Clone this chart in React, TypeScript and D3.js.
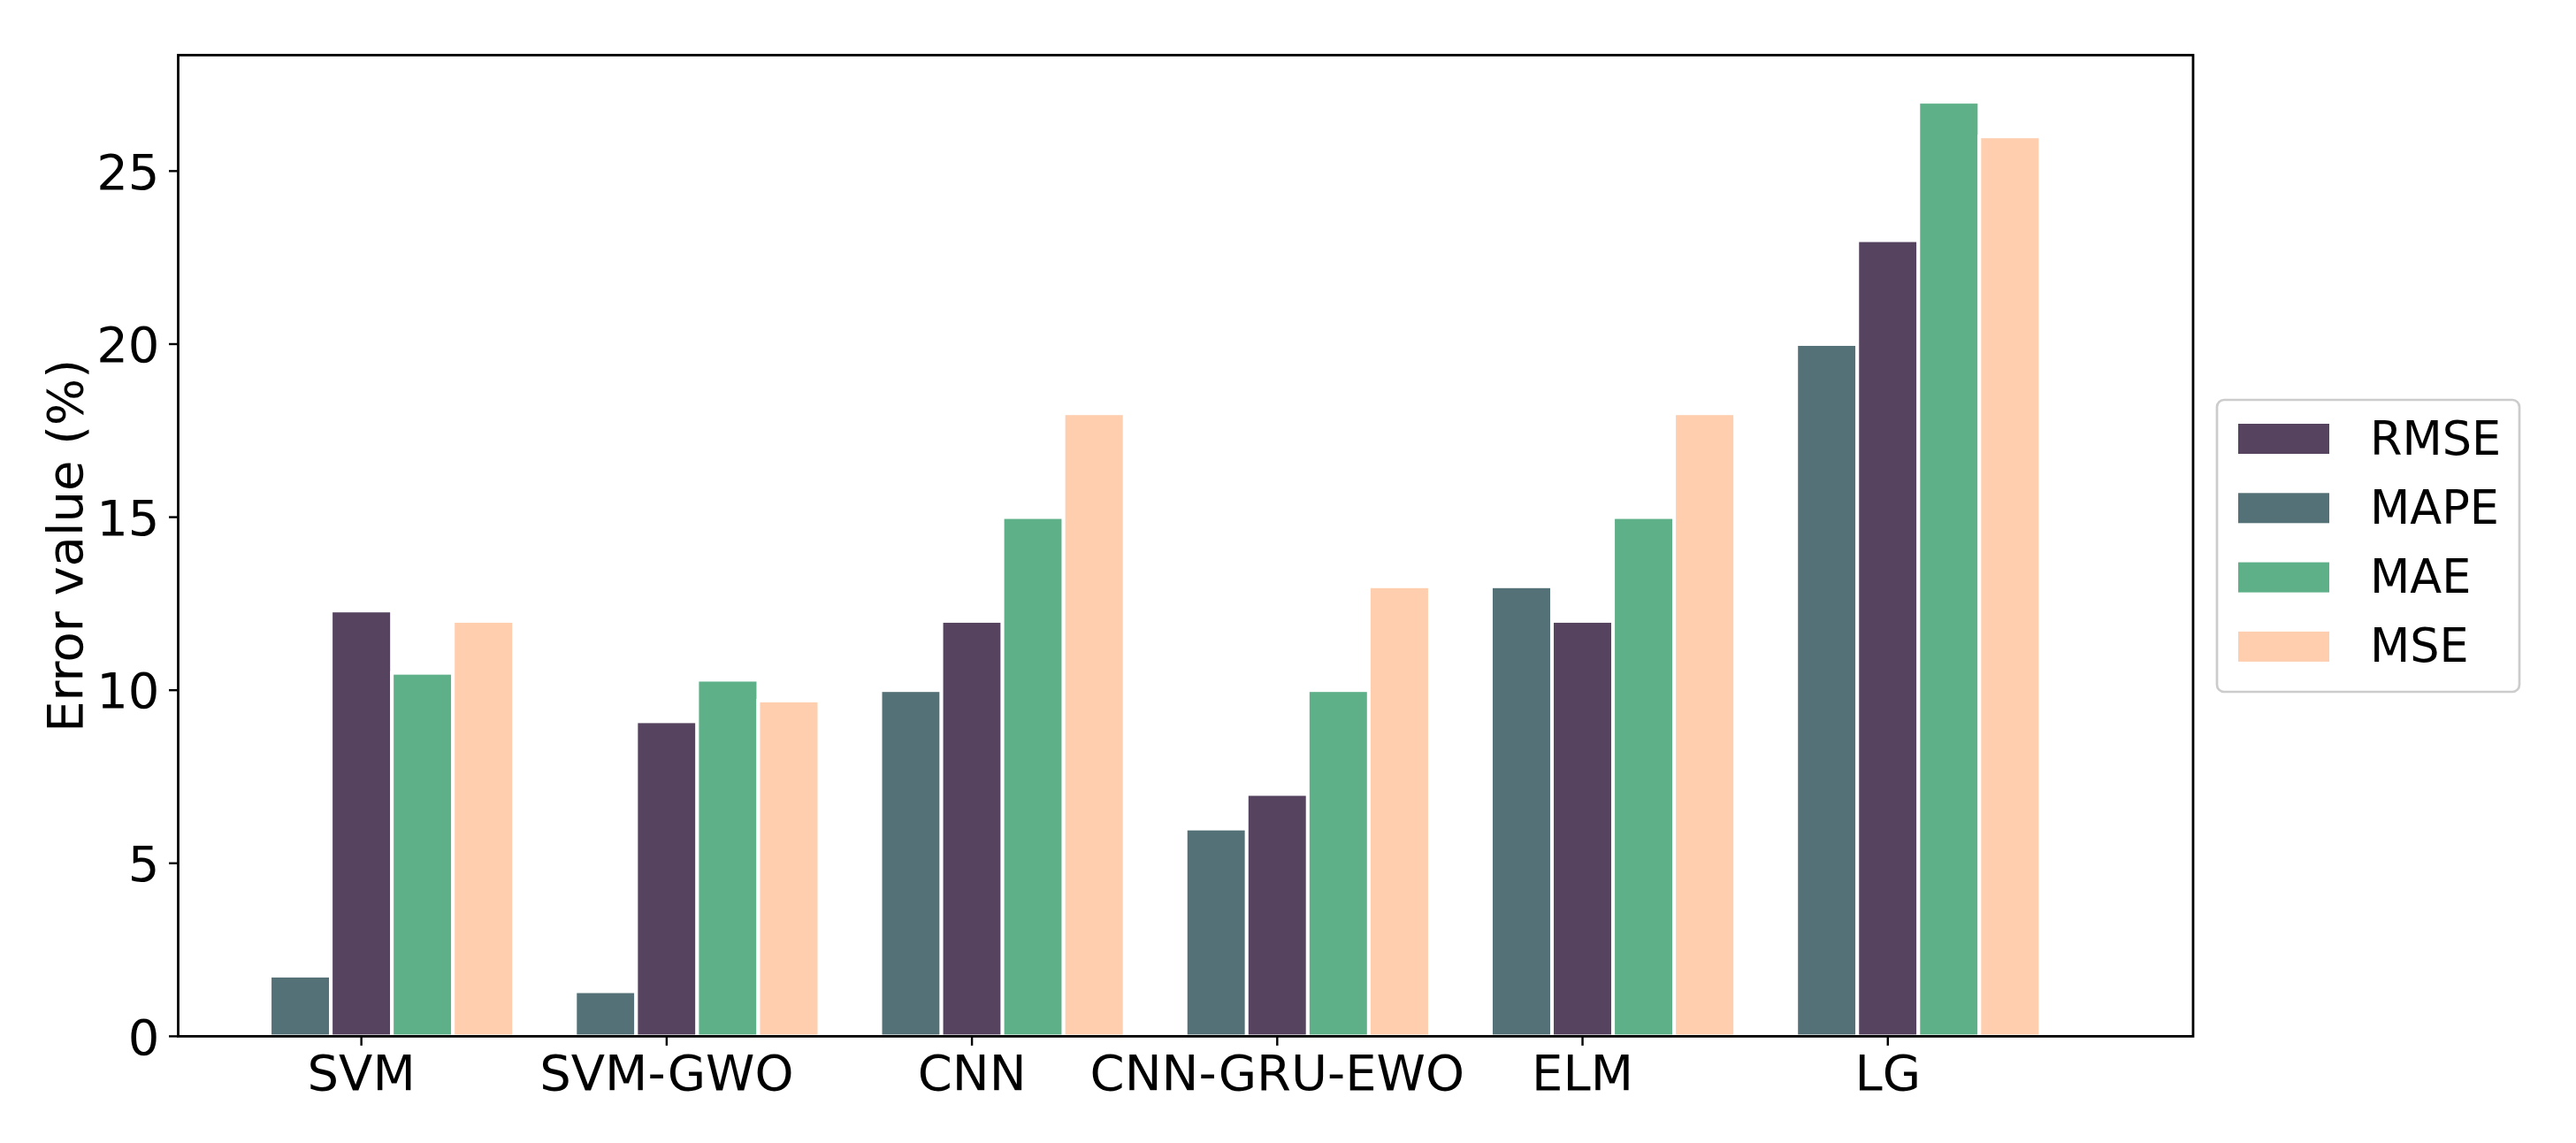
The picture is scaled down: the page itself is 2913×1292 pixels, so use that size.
import React from "react";
import * as d3 from "d3";

const categories = ["SVM", "SVM-GWO", "CNN", "CNN-GRU-EWO", "ELM", "LG"];
const seriesNames = ["MAPE", "RMSE", "MAE", "MSE"];
const MAPE = [1.75, 1.3, 10, 6, 13, 20];
const RMSE = [12.3, 9.1, 12, 7, 12, 23];
const MAE = [10.5, 10.3, 15, 10, 15, 27];
const MSE = [12, 9.7, 18, 13, 18, 26];
const legendOrder = ["RMSE", "MAPE", "MAE", "MSE"];
const yTicks = [0, 5, 10, 15, 20, 25];
const colors: Record<string, string> = {
  RMSE: "#55435F",
  MAPE: "#537176",
  MAE: "#5EB088",
  MSE: "#FECEAE",
};
const seriesValues: Record<string, number[]> = { MAPE, RMSE, MAE, MSE };
const offsets = [-0.2, 0, 0.2, 0.4];
const barW = 0.2;

export default function App() {
  const W = 2913, H = 1292;
  const left = 201.5, right = 2480, top = 62.3, bottom = 1171.4;
  const x = d3.scaleLinear().domain([-0.6, 6.0]).range([left, right]);
  const y = d3.scaleLinear().domain([0, 28.35]).range([bottom, top]);
  const font = "DejaVu Sans";
  return (
    <svg width={W} height={H} style={{ position: "absolute", left: 0, top: 0, background: "#fff" }} fontFamily={font}>
      <rect x={0} y={0} width={W} height={H} fill="#fff" />
      {seriesNames.map((s, si) =>
        categories.map((c, ci) => {
          const v = seriesValues[s][ci];
          const x0 = x(ci + offsets[si] - barW / 2);
          const x1 = x(ci + offsets[si] + barW / 2);
          return (
            <rect key={s + c} x={x0} y={y(v)} width={x1 - x0} height={y(0) - y(v)}
              fill={colors[s]} stroke="#fff" strokeWidth={4} />
          );
        })
      )}
      {/* spines */}
      <rect x={left} y={top} width={right - left} height={bottom - top} fill="none" stroke="#000" strokeWidth={2.8} />
      {/* y ticks */}
      {yTicks.map((t) => (
        <g key={t}>
          <line x1={left - 10.5} x2={left} y1={y(t)} y2={y(t)} stroke="#000" strokeWidth={2.4} />
          <text x={left - 21} y={y(t)} dy="0.36em" textAnchor="end" fontSize={56} fill="#000">{t}</text>
        </g>
      ))}
      {/* x ticks */}
      {categories.map((c, i) => (
        <g key={c}>
          <line x1={x(i)} x2={x(i)} y1={bottom} y2={bottom + 10.5} stroke="#000" strokeWidth={2.4} />
          <text x={x(i)} y={1232} textAnchor="middle" fontSize={56} fill="#000">{c}</text>
        </g>
      ))}
      <text transform={`translate(93,${(top + bottom) / 2}) rotate(-90)`} textAnchor="middle" fontSize={56} fill="#000">Error value (%)</text>
      {/* legend */}
      <rect x={2507} y={452} width={342} height={330} rx={8} ry={8} fill="#fff" stroke="#cccccc" strokeWidth={2.7} />
      {legendOrder.map((s, i) => {
        const cy = 496 + i * 78.3;
        return (
          <g key={s}>
            <rect x={2531} y={cy - 17} width={103} height={34} fill={colors[s]} />
            <text x={2680} y={cy + 17.5} fontSize={52.5} fill="#000">{s}</text>
          </g>
        );
      })}
    </svg>
  );
}
